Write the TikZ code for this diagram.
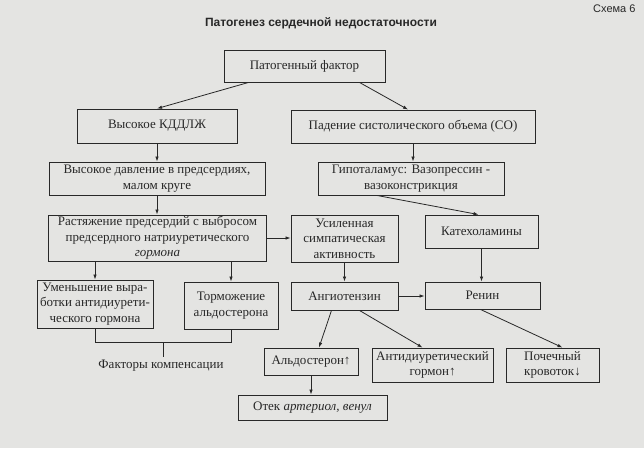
\documentclass[tikz,border=0pt]{standalone}
\usepackage{fontspec}
\setmainfont{Liberation Serif}
\setsansfont{Liberation Sans}
\usepackage{tikz}
\usetikzlibrary{arrows.meta,positioning,calc}

\definecolor{paper}{RGB}{228,228,226}
\definecolor{ink}{RGB}{40,40,40}

\begin{document}
\begin{tikzpicture}[x=1pt, y=-1pt,
    block/.style={rectangle, draw=ink, line width=0.9pt, align=center, inner sep=1.5pt, text=ink, font=\fontsize{13}{15.5}\selectfont},
    arrow/.style={-{Latex[length=5pt, width=3.5pt]}, draw=ink, line width=0.8pt},
    link/.style={draw=ink, line width=0.8pt}
  ]
    \fill[paper] (0,0) rectangle (644,448);
    \useasboundingbox (0,0) rectangle (644,448);

    % headings
    \node[text=ink, font=\sffamily\bfseries\fontsize{12}{14}\selectfont] (title) at (321,23) {Патогенез сердечной недостаточности};
    \node[text=ink, anchor=east, font=\sffamily\fontsize{11}{13}\selectfont] (scheme) at (639,9) {Схема 6};

    % boxes
    \node[block, minimum width=161pt, minimum height=32pt] (pf) at (304.5,66) {Патогенный фактор};
    \node[block, minimum width=160pt, minimum height=34pt] (kdd) at (157,126) {Высокое КДДЛЖ};
    \node[block, minimum width=244pt, minimum height=33pt] (pad) at (413,126.5) {Падение систолического объема (СО)};
    \node[block, minimum width=216pt, minimum height=33pt] (vd) at (157,178.5) {Высокое давление в предсердиях,\\малом круге};
    \node[block, minimum width=186pt, minimum height=33pt] (gip) at (411,178.5) {Гипоталамус: Вазопрессин -\\вазоконстрикция};
    \node[block, minimum width=218pt, minimum height=46pt] (rast) at (157.5,238) {Растяжение предсердий с выбросом\\предсердного натриуретического\\\textit{гормона}};
    \node[block, minimum width=107pt, minimum height=47pt] (usil) at (344.5,238.5) {Усиленная\\симпатическая\\активность};
    \node[block, minimum width=113pt, minimum height=33pt] (kat) at (481.5,231.5) {Катехоламины};
    \node[block, minimum width=116pt, minimum height=48pt] (umen) at (95,304) {Уменьшение выра-\\ботки антидиурети-\\ческого гормона};
    \node[block, minimum width=94pt, minimum height=47pt] (torm) at (231,305.5) {Торможение\\альдостерона};
    \node[block, minimum width=107pt, minimum height=28pt] (ang) at (344.5,296) {Ангиотензин};
    \node[block, minimum width=115pt, minimum height=27pt] (ren) at (482.5,295.5) {Ренин};
    \node[block, minimum width=94pt, minimum height=27pt] (ald) at (311,361.5) {Альдостерон↑};
    \node[block, minimum width=121pt, minimum height=34pt] (anti) at (432.5,365) {Антидиуретический\\гормон↑};
    \node[block, minimum width=93pt, minimum height=34pt] (poch) at (552.5,365) {Почечный\\кровоток↓};
    \node[block, minimum width=149pt, minimum height=25pt] (otek) at (312.5,407.5) {Отек \textit{артериол, венул}};
    \node[text=ink, font=\fontsize{13}{15.5}\selectfont] (komp) at (161,366) {Факторы компенсации};

    % connectors
    \draw[arrow] ([xshift=-56pt]pf.south) -- (kdd.north);
    \draw[arrow] ([xshift=55pt]pf.south) -- ([xshift=-5pt]pad.north);
    \draw[arrow] (kdd.south) -- (kdd.south |- vd.north);
    \draw[arrow] (pad.south) -- (pad.south |- gip.north);
    \draw[arrow] (vd.south) -- (vd.south |- rast.north);
    \draw[arrow] ([xshift=-34pt]gip.south) -- ([xshift=-3pt]kat.north);
    \draw[arrow] (rast.east) -- (rast.east -| usil.west);
    \draw[arrow] (umen.north |- rast.south) -- (umen.north);
    \draw[arrow] (torm.north |- rast.south) -- (torm.north);
    \draw[arrow] (usil.south) -- (ang.north);
    \draw[arrow] (kat.south) -- (kat.south |- ren.north);
    \draw[arrow] (ang.east) -- (ang.east -| ren.west);
    \draw[arrow] ([xshift=-13pt]ang.south) -- ([xshift=8pt]ald.north);
    \draw[arrow] ([xshift=15pt]ang.south) -- ([xshift=-10pt]anti.north);
    \draw[arrow] ([xshift=-2pt]ren.south) -- ([xshift=10pt]poch.north);
    \draw[arrow] (ald.south) -- (ald.south |- otek.north);

    % compensation bracket
    \draw[link] (umen.south) -- ++(0,14) -| (torm.south);
    \coordinate (brk) at ($(umen.south)!0.5!(torm.south)+(0,14)$);
    \draw[link] (brk) -- (brk |- komp.north);
  \end{tikzpicture}
\end{document}
